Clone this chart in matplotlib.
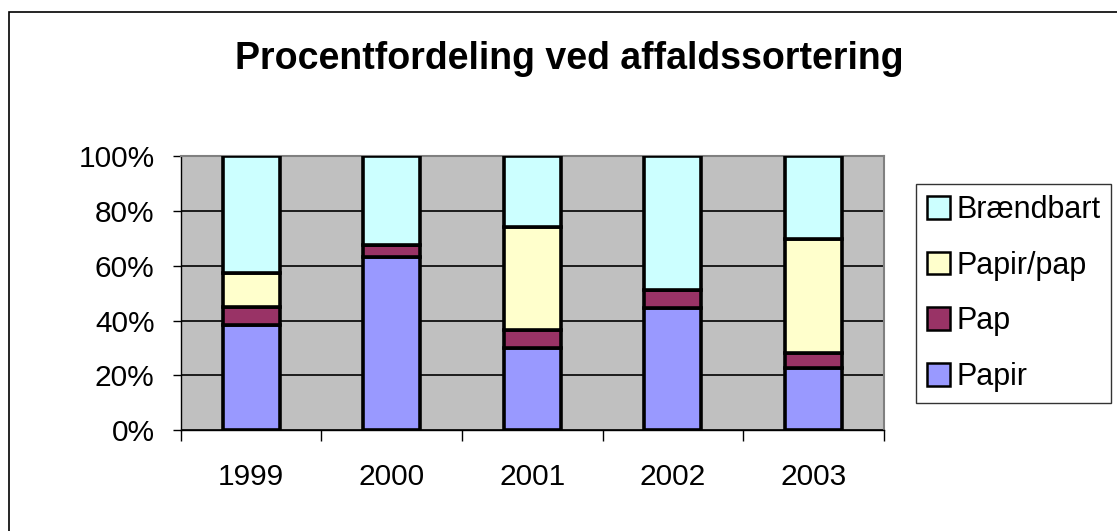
import matplotlib.pyplot as plt
import numpy as np
from matplotlib.patches import Rectangle

plt.rcParams['font.family'] = ['Liberation Sans', 'DejaVu Sans']

# data (percent)
years = ['1999', '2000', '2001', '2002', '2003']
papir = [38.2, 63.3, 29.9, 44.4, 22.6]
pap = [6.6, 4.3, 6.5, 6.6, 5.4]
papir_pap = [12.5, 0.0, 37.6, 0.0, 41.7]
braendbart = [42.7, 32.4, 26.0, 49.0, 30.3]

series = [('Papir', papir, '#9999FF'),
          ('Pap', pap, '#993366'),
          ('Papir/pap', papir_pap, '#FFFFCC'),
          ('Brændbart', braendbart, '#CCFFFF')]

fig = plt.figure(figsize=(11.17, 5.31), dpi=100)
ax = fig.add_axes([0.162, 0.190, 0.629, 0.516])

# outer chart frame (left and top edges visible)
fig.patches.append(Rectangle((9 / 1117, -0.05), 1.2, 1 - 12 / 531 + 0.05,
                             transform=fig.transFigure, fill=False,
                             edgecolor='black', linewidth=1.2))

x = np.arange(len(years))
bottom = np.zeros(len(years))
handles = []
for name, vals, col in series:
    h = ax.bar(x, vals, 0.405, bottom=bottom, color=col, edgecolor='black',
               linewidth=2.6, label=name, zorder=3)
    handles.append(h)
    bottom += np.array(vals)

ax.set_facecolor('#C0C0C0')
ax.set_xlim(-0.5, 4.5)
ax.set_ylim(0, 100)
ax.set_yticks(range(0, 101, 20))
ax.set_yticklabels([f'{v}%' for v in range(0, 101, 20)], fontsize=21.5)
ax.yaxis.grid(True, color='black', linewidth=1.2, zorder=1)
ax.set_axisbelow(True)

ax.set_xticks(x)
ax.set_xticklabels(years, fontsize=21.5)
ax.set_xticks(np.arange(-0.5, 5.0, 1.0), minor=True)
ax.tick_params(axis='x', which='major', length=0, pad=24)
ax.tick_params(axis='x', which='minor', length=8, width=1, direction='out')
ax.tick_params(axis='y', length=6, width=1, direction='out', pad=13)
for s in ax.spines.values():
    s.set_color('#808080')
    s.set_linewidth(1.5)
ax.spines['left'].set_color('black')
ax.spines['left'].set_linewidth(1)
ax.spines['bottom'].set_color('black')
ax.spines['bottom'].set_linewidth(1)

fig.text(0.510, 0.888, 'Procentfordeling ved affaldssortering', ha='center',
         va='center', fontsize=27, fontweight='bold')

leg = fig.legend(handles[::-1], [s[0] for s in series][::-1],
                 loc='upper left', bbox_to_anchor=(916 / 1117, 1 - 184 / 531),
                 fontsize=22, frameon=True, fancybox=False, edgecolor='black',
                 handlelength=0.75, handleheight=0.75, handletextpad=0.2,
                 labelspacing=0.84, borderpad=0.36, borderaxespad=0)
leg.get_frame().set_linewidth(1)
for p in leg.get_patches():
    p.set_linewidth(1.8)

fig.savefig('out.png', dpi=100)
